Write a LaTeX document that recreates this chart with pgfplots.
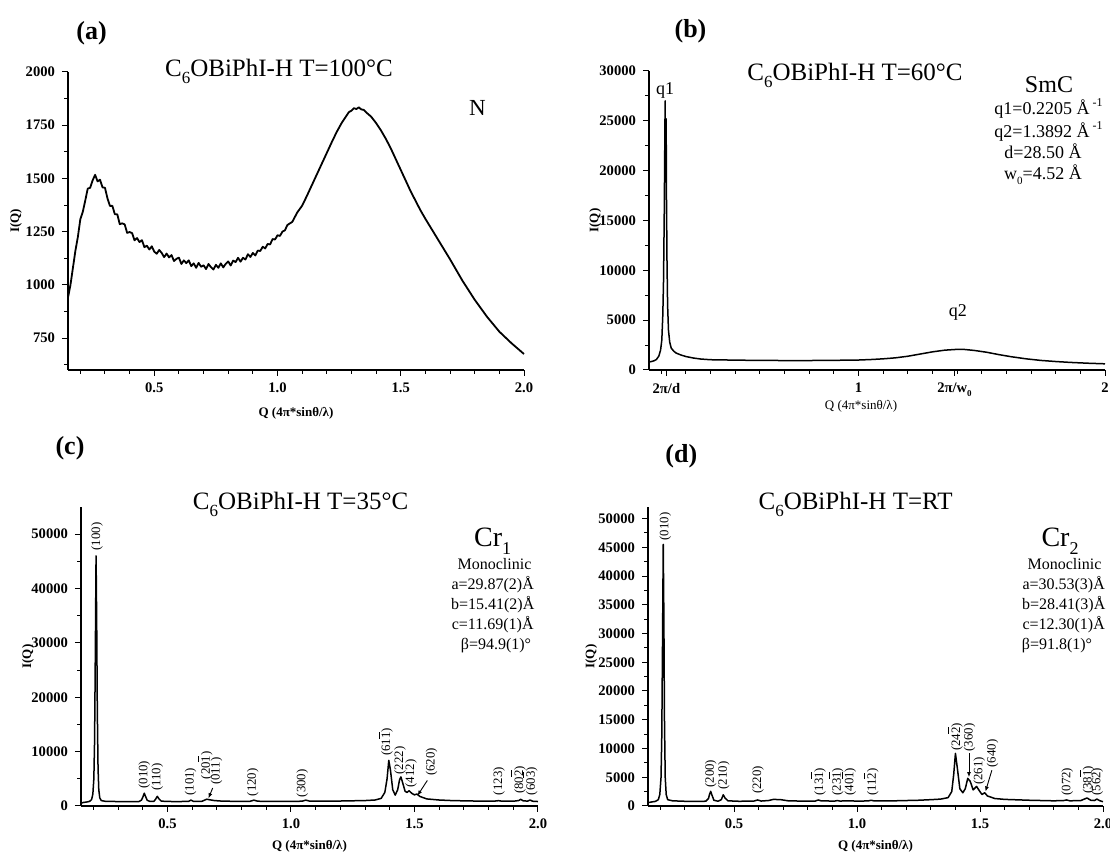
\documentclass[border=0pt]{standalone}
\usepackage{fontspec}
\setmainfont{Liberation Serif}
\usepackage{pgfplots}
\pgfplotsset{compat=1.18}
\usetikzlibrary{arrows.meta}

\newcommand{\ob}[1]{$\overline{\mbox{#1}}$}
\newcommand{\ttl}[1]{C\raisebox{-0.55ex}{\fontsize{8.5}{8.5}\selectfont 6}OBiPhI-H T=#1}

\pgfplotsset{
  xrd/.style={
    scale only axis,
    axis x line=bottom, axis y line=left,
    axis line style={-, line width=0.6pt},
    tick align=outside,
    tick style={black, line width=0.5pt},
    major tick length=3pt, minor tick length=1.8pt,
    xmin=0.15, xmax=2.0,
    tick label style={font=\fontsize{7.3}{8}\selectfont\bfseries},
    label style={font=\fontsize{6.5}{7}\selectfont\bfseries},
    xlabel={Q (4π*sinθ/λ)}, ylabel={I(Q)},
    scaled ticks=false,
    /pgf/number format/1000 sep={},
    /pgf/number format/assume math mode=true,
    clip=false,
  },
  qticks/.style={
    xtick={0.5,1,1.5,2}, xticklabels={0.5,1.0,1.5,2.0},
    minor xtick={0.2,0.3,0.4,0.6,0.7,0.8,0.9,1.1,1.2,1.3,1.4,1.6,1.7,1.8,1.9},
  },
  curve/.style={black, line width=0.75pt, line join=round, mark=none},
}
\tikzset{
  hkl/.style={rotate=90, anchor=west, inner sep=0.4pt, font=\fontsize{6.4}{6.4}\selectfont},
  arr/.style={-{Latex[length=2.6pt,width=2pt]}, line width=0.45pt},
}

\begin{document}
\begin{tikzpicture}
\useasboundingbox (0,0) rectangle (555pt,-427pt);

% ---------------- (a) N, 100 C
\begin{axis}[xrd, qticks, at={(34pt,-185pt)}, anchor=south west,
  width=228pt, height=149pt,
  ymin=600, ymax=2000,
  ytick={750,1000,1250,1500,1750,2000},
  minor ytick={625,875,1125,1375,1625,1875},
  x label style={at={(axis description cs:0.5,-0.145)},anchor=center},
  y label style={at={(axis description cs:-0.114,0.5)},anchor=center}]
\addplot[curve, line width=0.9pt] coordinates {
(0.15,940) (0.16,1000) (0.17,1080) (0.18,1160) (0.19,1225)
(0.20,1308) (0.21,1343) (0.22,1396) (0.23,1452) (0.24,1456) (0.25,1491)
(0.26,1517) (0.27,1486) (0.28,1494) (0.29,1458) (0.30,1456) (0.31,1407)
(0.32,1371) (0.33,1371) (0.34,1332) (0.35,1331) (0.36,1285) (0.37,1289)
(0.38,1284) (0.39,1244) (0.40,1248) (0.41,1243) (0.42,1209) (0.43,1220)
(0.44,1201) (0.45,1210) (0.46,1177) (0.47,1184) (0.48,1166) (0.49,1181)
(0.50,1156) (0.51,1146) (0.52,1164) (0.53,1150) (0.54,1130) (0.55,1147)
(0.56,1129) (0.57,1140) (0.58,1112) (0.59,1122) (0.60,1128) (0.61,1098)
(0.62,1115) (0.63,1102) (0.64,1115) (0.65,1088) (0.66,1101) (0.67,1080)
(0.68,1103) (0.69,1085) (0.70,1092) (0.71,1074) (0.72,1098) (0.73,1083)
(0.74,1072) (0.75,1094) (0.76,1080) (0.77,1101) (0.78,1082) (0.79,1099)
(0.80,1110) (0.81,1091) (0.82,1114) (0.83,1107) (0.84,1127) (0.85,1109)
(0.86,1127) (0.87,1119) (0.88,1144) (0.89,1131) (0.90,1150) (0.91,1138)
(0.92,1161) (0.93,1159) (0.94,1179) (0.95,1171) (0.96,1192) (0.97,1190)
(0.98,1215) (0.99,1213) (1.00,1233) (1.01,1230) (1.02,1250) (1.03,1256)
(1.04,1281) (1.06,1296) (1.08,1340) (1.10,1372)
(1.12,1420) (1.14,1470) (1.16,1520) (1.18,1570) (1.20,1620) (1.22,1670)
(1.24,1718) (1.26,1760) (1.28,1795) (1.29,1812) (1.30,1818) (1.31,1830)
(1.32,1826) (1.33,1834) (1.34,1824) (1.35,1822) (1.36,1810)
(1.38,1790) (1.40,1760) (1.42,1725) (1.44,1685) (1.46,1640)
(1.48,1590) (1.50,1540) (1.52,1490) (1.54,1440) (1.56,1395) (1.58,1350)
(1.60,1310) (1.62,1272) (1.65,1215) (1.70,1120) (1.75,1020) (1.80,930)
(1.85,850) (1.90,780) (1.95,725) (2.00,675)
};
\end{axis}

% ---------------- (b) SmC, 60 C
\begin{axis}[xrd, at={(324.5pt,-185pt)}, anchor=south west,
  width=228pt, height=149.5pt,
  ymin=0, ymax=30000,
  ytick={0,5000,10000,15000,20000,25000,30000},
  minor ytick={2500,7500,12500,17500,22500,27500},
  xtick={0.2205,1,1.3892,2},
  xticklabels={2π/d,1,2π/w\raisebox{-0.5ex}{\fontsize{4.5}{4.5}\selectfont 0},2},
  minor xtick={0.2,0.3,0.4,0.5,0.6,0.7,0.8,0.9,1.1,1.2,1.3,1.4,1.5,1.6,1.7,1.8,1.9},
  x label style={at={(axis description cs:0.465,-0.123)},anchor=center,font=\fontsize{6.5}{7}\selectfont},
  y label style={at={(axis description cs:-0.118,0.5)},anchor=center}]
\addplot[curve] coordinates {
(0.150,800) (0.160,850) (0.170,920) (0.180,1050) (0.190,1400) (0.197,2000)
(0.202,3000) (0.206,5500) (0.209,9000) (0.212,16000) (0.2145,24000)
(0.2155,27000) (0.217,19000) (0.2185,23000) (0.2195,25200) (0.221,17000)
(0.223,11000) (0.2255,6500) (0.229,4000) (0.234,2800) (0.240,2200)
(0.250,1900) (0.260,1700) (0.280,1500) (0.300,1350) (0.330,1200)
(0.360,1100) (0.400,1030) (0.500,990) (0.600,960) (0.700,950) (0.800,950)
(0.900,970) (1.000,1000) (1.050,1050) (1.100,1120) (1.150,1220)
(1.200,1380) (1.250,1600) (1.300,1820) (1.350,1990) (1.400,2070)
(1.430,2060) (1.470,1960) (1.520,1780) (1.570,1540) (1.620,1330)
(1.680,1120) (1.740,960) (1.800,850) (1.860,760) (1.930,680) (2.000,620)
};
\end{axis}

% ---------------- (c) Cr1, 35 C
\begin{axis}[xrd, qticks, at={(40.5pt,-403pt)}, anchor=south west,
  width=228.5pt, height=149.5pt,
  ymin=0, ymax=55000,
  ytick={0,10000,20000,30000,40000,50000},
  minor ytick={5000,15000,25000,35000,45000},
  x label style={at={(axis description cs:0.5,-0.136)},anchor=center},
  y label style={at={(axis description cs:-0.116,0.5)},anchor=center}]
\addplot[curve] coordinates {
(0.150,500) (0.160,650) (0.175,750) (0.185,850) (0.193,1200) (0.198,2200)
(0.202,5000) (0.205,12000) (0.208,28000) (0.211,46000) (0.2135,34000)
(0.216,18000) (0.219,7000) (0.222,3000) (0.226,1500) (0.232,1000)
(0.250,850) (0.300,820) (0.350,800) (0.385,820) (0.395,1100) (0.401,1700)
(0.406,2350) (0.411,1800) (0.418,1050) (0.430,830) (0.445,850) (0.452,1250)
(0.459,1780) (0.465,1350) (0.475,900) (0.500,830) (0.550,820) (0.585,850)
(0.595,1080) (0.605,860) (0.640,870) (0.659,1250) (0.670,1150) (0.690,1000)
(0.720,900) (0.780,850) (0.835,870) (0.850,1080) (0.865,880) (0.900,850)
(0.950,870) (1.000,850) (1.045,880) (1.060,1080) (1.075,900) (1.120,880)
(1.180,900) (1.240,950) (1.300,1000) (1.340,1100) (1.365,1400) (1.380,2500)
(1.389,5000) (1.396,8400) (1.403,6500) (1.412,3000) (1.422,2000) (1.432,3000)
(1.440,4900) (1.445,5350) (1.452,4300) (1.462,2700) (1.470,2500) (1.478,2800)
(1.490,2300) (1.500,2050) (1.510,2200) (1.522,1750) (1.550,1300) (1.600,1100)
(1.650,1000) (1.700,950) (1.760,900) (1.820,880) (1.840,980) (1.855,880)
(1.900,880) (1.922,1000) (1.930,1230) (1.940,950) (1.958,900) (1.968,1100)
(1.978,880) (2.000,820)
};
\node[hkl] at (axis cs:0.215,46800) {(100)};
\node[hkl] at (axis cs:0.406,3000) {(010)};
\node[hkl] at (axis cs:0.459,2600) {(110)};
\node[hkl] at (axis cs:0.593,1700) {(101)};
\node[hkl] at (axis cs:0.652,4700) {(20\ob{1})};
\node[hkl] at (axis cs:0.699,3700) {(011)};
\draw[arr] (axis cs:0.683,3300) -- (axis cs:0.666,1400);
\node[hkl] at (axis cs:0.845,1600) {(120)};
\node[hkl] at (axis cs:1.046,1400) {(300)};
\node[hkl] at (axis cs:1.382,9000) {(61\ob{1})};
\node[hkl] at (axis cs:1.442,5600) {(222)};
\node[hkl] at (axis cs:1.486,3200) {(412)};
\node[hkl] at (axis cs:1.569,5300) {(620)};
\draw[arr] (axis cs:1.552,4700) -- (axis cs:1.512,1900);
\node[hkl] at (axis cs:1.842,1800) {(123)};
\node[hkl] at (axis cs:1.920,2000) {(80\ob{2})};
\node[hkl] at (axis cs:1.968,1800) {(60\ob{3})};
\end{axis}

% ---------------- (d) Cr2, RT
\begin{axis}[xrd, qticks, at={(324pt,-403pt)}, anchor=south west,
  width=227.5pt, height=149.5pt,
  ymin=0, ymax=52000,
  ytick={0,5000,10000,15000,20000,25000,30000,35000,40000,45000,50000},
  minor ytick={2500,7500,12500,17500,22500,27500,32500,37500,42500,47500},
  x label style={at={(axis description cs:0.5,-0.136)},anchor=center},
  y label style={at={(axis description cs:-0.125,0.5)},anchor=center}]
\addplot[curve] coordinates {
(0.150,580) (0.165,700) (0.180,800) (0.192,1100) (0.198,2000) (0.203,5000)
(0.206,12000) (0.209,28000) (0.212,45500) (0.2145,33000) (0.217,15000)
(0.220,5000) (0.224,2000) (0.230,1100) (0.250,900) (0.300,820) (0.350,800)
(0.385,830) (0.396,1300) (0.400,2000) (0.405,2550) (0.410,1900) (0.418,1000)
(0.435,830) (0.448,1100) (0.456,1950) (0.463,1400) (0.475,900) (0.520,820)
(0.580,850) (0.596,1050) (0.610,860) (0.640,950) (0.660,1150) (0.690,1100)
(0.720,900) (0.800,830) (0.830,860) (0.842,1050) (0.855,880) (0.910,860)
(0.920,950) (0.930,860) (0.965,900) (1.000,850) (1.045,880) (1.057,1000)
(1.070,880) (1.150,900) (1.250,1000) (1.300,1100) (1.340,1200) (1.370,1450)
(1.385,2500) (1.393,5500) (1.400,9150) (1.408,6500) (1.418,3000) (1.430,2300)
(1.440,3000) (1.450,4800) (1.460,4300) (1.472,2800) (1.486,3400) (1.498,2600)
(1.508,2000) (1.519,2300) (1.530,1750) (1.560,1300) (1.600,1150) (1.700,1000)
(1.800,900) (1.840,950) (1.852,1050) (1.865,900) (1.910,950) (1.935,1400)
(1.950,1000) (1.965,950) (1.975,1200) (1.988,900) (2.000,750)
};
\node[hkl] at (axis cs:0.220,46000) {(010)};
\node[hkl] at (axis cs:0.405,3000) {(200)};
\node[hkl] at (axis cs:0.458,2700) {(210)};
\node[hkl] at (axis cs:0.597,1900) {(220)};
\node[hkl] at (axis cs:0.842,1600) {(13\ob{1})};
\node[hkl] at (axis cs:0.914,1600) {(23\ob{1})};
\node[hkl] at (axis cs:0.965,1600) {(40\ob{1})};
\node[hkl] at (axis cs:1.057,1600) {(11\ob{2})};
\node[hkl] at (axis cs:1.399,9400) {(24\ob{2})};
\node[hkl] at (axis cs:1.457,9300) {(360)};
\draw[arr] (axis cs:1.455,9200) -- (axis cs:1.455,5000);
\node[hkl] at (axis cs:1.497,3500) {(261)};
\node[hkl] at (axis cs:1.551,6500) {(640)};
\draw[arr] (axis cs:1.548,6200) -- (axis cs:1.522,2500);
\node[hkl] at (axis cs:1.855,1600) {(072)};
\node[hkl] at (axis cs:1.934,1900) {(38\ob{1})};
\node[hkl] at (axis cs:1.977,1600) {(562)};
\end{axis}

% ---------------- panel letters, titles and phase notes
\node[font=\fontsize{13}{13}\selectfont\bfseries] at (45.75pt,-16.65pt) {(a)};
\node[font=\fontsize{13}{13}\selectfont\bfseries] at (345.25pt,-15.85pt) {(b)};
\node[font=\fontsize{13}{13}\selectfont\bfseries] at (35pt,-224.15pt) {(c)};
\node[font=\fontsize{13}{13}\selectfont\bfseries] at (340.65pt,-228.35pt) {(d)};

\begin{scope}[every node/.style={anchor=base, inner sep=0pt, font=\fontsize{12.5}{13}\selectfont}]
\node at (139.5pt,-38.35pt) {\ttl{100°C}};
\node at (427.5pt,-40.35pt) {\ttl{60°C}};
\node at (150.3pt,-255pt) {\ttl{35°C}};
\node at (427.8pt,-255pt) {\ttl{RT}};
\end{scope}

\node[font=\fontsize{11.5}{12}\selectfont] at (238.7pt,-53.75pt) {N};

\node[font=\fontsize{9}{9}\selectfont] at (332.5pt,-45pt) {q1};
\node[font=\fontsize{9}{9}\selectfont] at (478.9pt,-156.35pt) {q2};
\begin{scope}[every node/.style={anchor=base, inner sep=0pt, font=\fontsize{9}{9}\selectfont}]
\node[font=\fontsize{12}{12}\selectfont] at (524.5pt,-46.3pt) {SmC};
\node at (524.5pt,-57.3pt) {q1=0.2205 Å\,\textsuperscript{-1}};
\node at (524.5pt,-68.6pt) {q2=1.3892 Å\,\textsuperscript{-1}};
\node at (521.5pt,-79.3pt) {d=28.50 Å};
\node at (521.5pt,-90pt) {w\raisebox{-0.5ex}{\fontsize{5.5}{5.5}\selectfont 0}=4.52 Å};
\end{scope}

\begin{scope}[every node/.style={anchor=base, inner sep=0pt, font=\fontsize{8}{8}\selectfont}]
\node[font=\fontsize{14}{14}\selectfont] at (246.35pt,-273.35pt) {Cr\raisebox{-0.6ex}{\fontsize{9}{9}\selectfont 1}};
\node at (247.25pt,-285pt) {Monoclinic};
\node at (246.35pt,-295pt) {a=29.87(2)Å};
\node at (246.35pt,-305pt) {b=15.41(2)Å};
\node at (246.35pt,-315pt) {c=11.69(1)Å};
\node at (248pt,-325pt) {β=94.9(1)°};
\node[font=\fontsize{14}{14}\selectfont] at (530pt,-273.35pt) {Cr\raisebox{-0.6ex}{\fontsize{9}{9}\selectfont 2}};
\node at (532.25pt,-285pt) {Monoclinic};
\node at (531.85pt,-295pt) {a=30.53(3)Å};
\node at (531.85pt,-305pt) {b=28.41(3)Å};
\node at (531.85pt,-315pt) {c=12.30(1)Å};
\node at (528.5pt,-325pt) {β=91.8(1)°};
\end{scope}
\end{tikzpicture}
\end{document}
